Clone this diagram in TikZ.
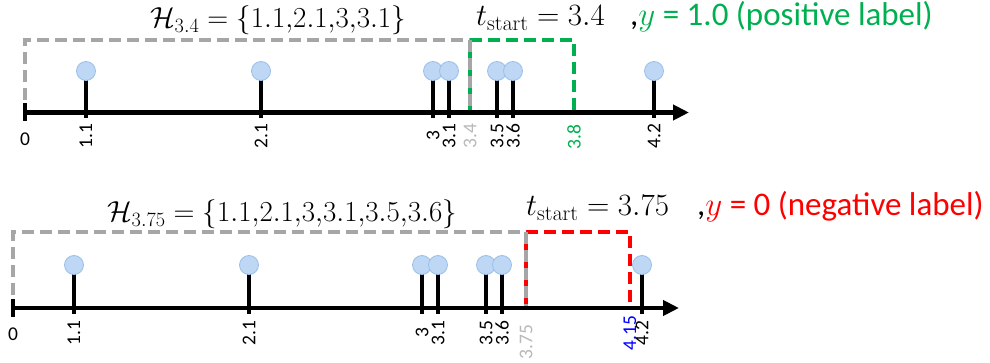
\RequirePackage{fix-cm}
\documentclass[tikz,border=0pt]{standalone}
\usepackage[no-math]{fontspec}
\setmainfont{Carlito}
\usetikzlibrary{arrows.meta,calc}

\definecolor{posgreen}{RGB}{0,176,80}
\definecolor{neggred}{RGB}{255,0,0}
\definecolor{histgray}{RGB}{166,166,166}
\definecolor{lightlbl}{RGB}{185,185,185}
\definecolor{evfill}{RGB}{189,215,245}
\definecolor{evedge}{RGB}{155,192,232}

\begin{document}
\begin{tikzpicture}[x=1pt,y=-1pt,
  axisline/.style={line width=4.5pt,-{Triangle[length=16pt,width=15pt]}},
  zerotick/.style={line width=4pt},
  stemline/.style={line width=4pt},
  event/.style={circle,fill=evfill,draw=evedge,line width=0.8pt,minimum size=19pt,inner sep=0pt},
  ticklbl/.style={rotate=90,anchor=center,inner sep=0pt,font=\fontsize{19.5}{19.5}\selectfont},
  zerolbl/.style={anchor=north,inner sep=0pt,font=\fontsize{19.5}{19.5}\selectfont},
  winline/.style={line width=4pt,dash pattern=on 12pt off 6pt},
  histtitle/.style={anchor=base,inner sep=0pt,font=\fontsize{29}{32}\selectfont},
  starttitle/.style={anchor=base west,inner sep=0pt,font=\fontsize{31}{34}\selectfont},
  labeltitle/.style={anchor=base west,inner sep=0pt,font=\fontsize{33}{36}\selectfont},
]
\useasboundingbox (0,0) rectangle (990,363);

% ---------------- upper timeline: t_start = 3.4 ----------------
\node[histtitle] (hA) at (278,28) {$\mathcal{H}_{3.4} = \{1.1{,}2.1{,}3{,}3.1\}$};
\node[starttitle] (sA) at (476,26) {$t_{\mathrm{start}} = 3.4$};
\node[labeltitle] (yA) at (630,26) {,{\color{posgreen}$y$ = 1.0 (positive label)}};

% observation window (green) and history window (gray)
\coordinate (gA0) at (25,100);
\coordinate (gA1) at (25,40);
\coordinate (gA2) at (470,40);
\coordinate (gA3) at (470,112.5);
\coordinate (wA1) at (574,40);
\coordinate (wA2) at (574,112.5);
\draw[winline,posgreen] (gA2) -- (wA1) -- (wA2);
\draw[winline,posgreen,dash phase=6pt] (gA2) -- (gA3);
\draw[winline,histgray] (gA0) -- (gA1) -- (gA2);
\draw[winline,histgray] (gA2) -- (gA3);

% axis
\coordinate (oA) at (25,112.5);
\coordinate (endA) at (689,112.5);
\draw[axisline] (oA) -- (endA);
\draw[zerotick] ($(oA)+(0,-9)$) -- ($(oA)+(0,9)$);
\node[zerolbl] (zA) at (25,133) {0};

% events
\foreach \x/\t [count=\i] in {86/1.1,261/2.1,433/3,449/3.1,497/3.5,513/3.6,654/4.2}{
  \coordinate (pA\i) at (\x,71);
  \coordinate (bA\i) at (\x,118.5);
  \draw[stemline] (pA\i) -- (bA\i);
  \node[event] (eA\i) at (pA\i) {};
  \node[ticklbl] (lA\i) at (\x,136) {\t};
}
\node[ticklbl,text=lightlbl] (lAs) at (470,136) {3.4};
\node[ticklbl,text=posgreen] (lAe) at (574,137) {3.8};

% ---------------- lower timeline: t_start = 3.75 ----------------
\node[histtitle] (hB) at (282,222) {$\mathcal{H}_{3.75} = \{1.1{,}2.1{,}3{,}3.1{,}3.5{,}3.6\}$};
\node[starttitle] (sB) at (526,216) {$t_{\mathrm{start}} = 3.75$};
\node[labeltitle] (yB) at (697,216) {,{\color{neggred}$y$ = 0 (negative label)}};

\coordinate (gB0) at (13,295);
\coordinate (gB1) at (13,232);
\coordinate (gB2) at (526,232);
\coordinate (gB3) at (526,308);
\coordinate (wB1) at (630,232);
\coordinate (wB2) at (630,308);
\draw[winline,neggred] (gB2) -- (wB1) -- (wB2);
\draw[winline,neggred,dash phase=6pt] (gB2) -- (gB3);
\draw[winline,histgray] (gB0) -- (gB1) -- (gB2);
\draw[winline,histgray] (gB2) -- (gB3);

\coordinate (oB) at (13,308);
\coordinate (endB) at (679,308);
\draw[axisline] (oB) -- (endB);
\draw[zerotick] ($(oB)+(0,-9)$) -- ($(oB)+(0,9)$);
\node[zerolbl] (zB) at (13,328) {0};

\foreach \x/\t [count=\i] in {74/1.1,249/2.1,422/3,438/3.1,486/3.5,502/3.6,642/4.2}{
  \coordinate (pB\i) at (\x,265);
  \coordinate (bB\i) at (\x,314);
  \draw[stemline] (pB\i) -- (bB\i);
  \node[event] (eB\i) at (pB\i) {};
  \node[ticklbl] (lB\i) at (\x,333) {\t};
}
\node[ticklbl,text=lightlbl] (lBs) at (526,342) {3.75};
\node[ticklbl,text=blue] (lBe) at (630,333) {4.15};
\end{tikzpicture}
\end{document}
